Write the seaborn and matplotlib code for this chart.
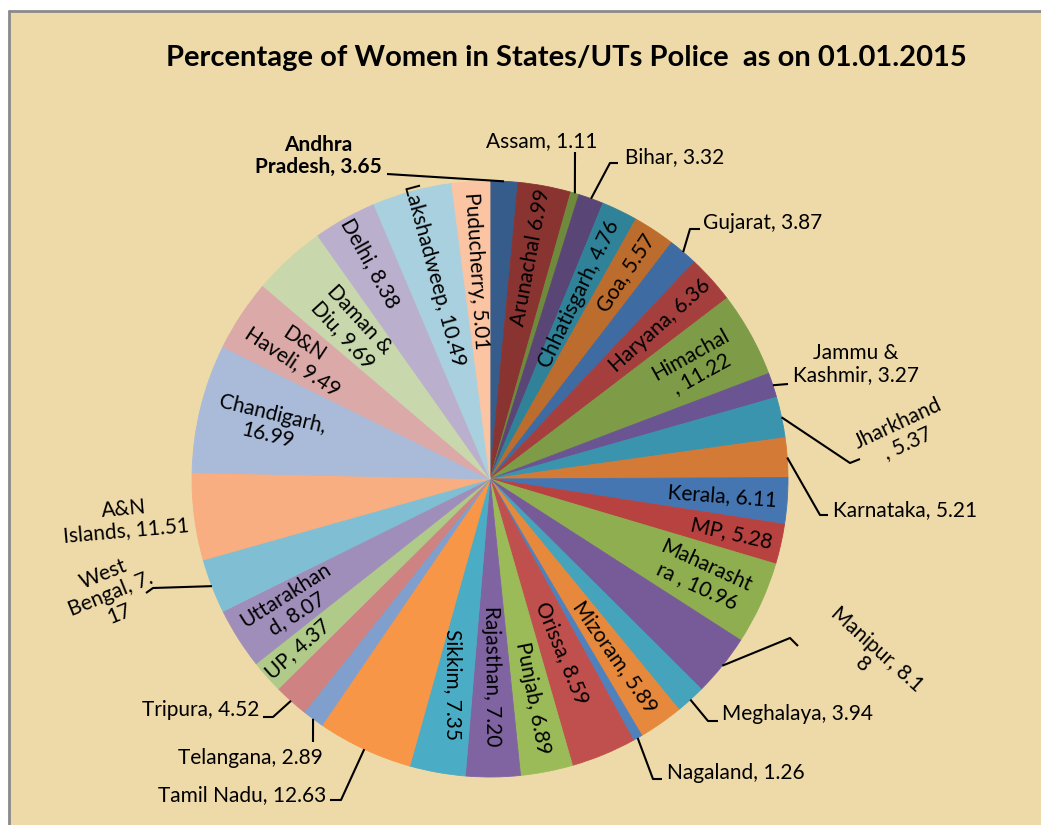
import numpy as np
import matplotlib
matplotlib.use("Agg")
import matplotlib.pyplot as plt
import seaborn as sns
from matplotlib.lines import Line2D
from matplotlib.patches import Rectangle

# --------------------------------
# Data (women in police, % as on 01.01.2015)
# --------------------------------
states = ['Andhra Pradesh', 'Arunachal', 'Assam', 'Bihar', 'Chhatisgarh', 'Goa',
          'Gujarat', 'Haryana', 'Himachal', 'Jammu & Kashmir', 'Jharkhand',
          'Karnataka', 'Kerala', 'MP', 'Maharashtra', 'Manipur', 'Meghalaya',
          'Mizoram', 'Nagaland', 'Orissa', 'Punjab', 'Rajasthan', 'Sikkim',
          'Tamil Nadu', 'Telangana', 'Tripura', 'UP', 'Uttarakhand',
          'West Bengal', 'A&N Islands', 'Chandigarh', 'D&N Haveli',
          'Daman & Diu', 'Delhi', 'Lakshadweep', 'Puducherry']
women_pct = [3.65, 6.99, 1.11, 3.32, 4.76, 5.57, 3.87, 6.36, 11.22, 3.27, 5.37,
             5.21, 6.11, 5.28, 10.96, 8.18, 3.94, 5.89, 1.26, 8.59, 6.89, 7.20,
             7.35, 12.63, 2.89, 4.52, 4.37, 8.07, 7.17, 11.51, 16.99, 9.49,
             9.69, 8.38, 10.49, 5.01]
# label text as wrapped in the original chart
label_texts = ['Andhra\nPradesh, 3.65', 'Arunachal 6.99', 'Assam, 1.11', 'Bihar, 3.32',
               'Chhatisgarh, 4.76', 'Goa, 5.57', 'Gujarat, 3.87', 'Haryana, 6.36',
               'Himachal\n, 11.22', 'Jammu &\nKashmir, 3.27', 'Jharkhand\n, 5.37',
               'Karnataka, 5.21', 'Kerala, 6.11', 'MP, 5.28', 'Maharasht\nra , 10.96',
               'Manipur, 8.1\n8', 'Meghalaya, 3.94', 'Mizoram, 5.89', 'Nagaland, 1.26',
               'Orissa, 8.59', 'Punjab, 6.89', 'Rajasthan, 7.20', 'Sikkim, 7.35',
               'Tamil Nadu, 12.63', 'Telangana, 2.89', 'Tripura, 4.52', 'UP, 4.37',
               'Uttarakhan\nd, 8.07', 'West\nBengal, 7.\n17', 'A&N\nIslands, 11.51',
               'Chandigarh,\n16.99', 'D&N\nHaveli, 9.49', 'Daman &\nDiu, 9.69',
               'Delhi, 8.38', 'Lakshadweep, 10.49', 'Puducherry, 5.01']

slice_colors = ['#355C8A', '#8A3432', '#6F8A3C', '#5A4676', '#2F8298', '#BC6C2C',
                '#3F6BA3', '#A53F3D', '#7E9C47', '#6A5592', '#3A94AE', '#D37A36',
                '#4676B2', '#B8423F', '#8FAE50', '#775B99', '#45A3BC', '#E6893C',
                '#4F81BD', '#C0504D', '#9BBB59', '#8064A2', '#4BACC6', '#F79646',
                '#819FCC', '#CE8281', '#B0CA8A', '#A08EBA', '#80BFD3', '#F8AE80',
                '#A9BBD9', '#DBA9A8', '#C8D8AC', '#BAB0CD', '#A9D0DE', '#FBC4A3']

# --------------------------------
# Label placement (style)
# --------------------------------
# inside labels: index -> (radius fraction, rotation override or None)
inside = {1: (0.755, None), 4: (0.69, None), 5: (0.83, None), 7: (0.77, None),
          8: (0.79, None), 12: (0.78, None), 13: (0.83, None), 14: (0.78, None),
          17: (0.73, None), 19: (0.63, None), 20: (0.75, None), 21: (0.66, None),
          22: (0.70, -90), 26: (0.86, None), 27: (0.79, None), 30: (0.76, None),
          31: (0.77, None), 32: (0.69, None), 33: (0.83, None), 34: (0.71, None),
          35: (0.70, None)}

# outside labels: index -> (x, y, ha, rotation, leader points after the wedge edge)
def px(x, y):
    return ((x - 490) / 298.0, (479 - y) / 298.0)

outside = {
    0: (px(318, 156), 'center', 0, [px(387, 174)]),
    2: (px(542, 141), 'center', 0, [px(575, 152)]),
    3: (px(625, 157), 'left', 0, [px(610, 163), px(618, 163)]),
    6: (px(703, 223), 'left', 0, [px(690, 229), px(700, 229)]),
    9: (px(856, 364), 'center', 0, [px(788, 384)]),
    10: (px(903, 433), 'center', 25, [px(850, 463), px(860, 459)]),
    11: (px(833, 510), 'left', 0, [px(820, 515), px(828, 515)]),
    15: (px(870, 657), 'center', -42, [px(790, 638), px(798, 646)]),
    16: (px(722, 714), 'left', 0, [px(708, 721), px(718, 721)]),
    18: (px(667, 773), 'left', 0, [px(653, 779), px(662, 779)]),
    23: (px(326, 795), 'right', 0, [px(341, 800), px(330, 800)]),
    24: (px(250, 758), 'center', 0, [px(313, 742)]),
    25: (px(259, 710), 'right', 0, [px(273, 717), px(263, 717)]),
    28: (px(111, 594), 'center', 22, [px(153, 588), px(146, 593)]),
    29: (px(125, 520), 'center', 5, []),
}

sns.set_style("white")
plt.rcParams['font.family'] = ['Lato', 'DejaVu Sans']
plt.rcParams['text.color'] = 'black'

W, H = 1041, 825
fig = plt.figure(figsize=(W / 100, H / 100), dpi=100)
fig.patch.set_facecolor('white')

# parchment panel with grey frame
fig.patches.append(Rectangle((10 / W, 0), 1, 1 - 12 / H, transform=fig.transFigure,
                             facecolor='#EEDAA8', edgecolor='none', zorder=-5))
fig.add_artist(Line2D([9 / W, 1], [1 - 11 / H] * 2, color='#8A8A8A', lw=2, zorder=-4))
fig.add_artist(Line2D([9 / W] * 2, [0, 1 - 11 / H], color='#8A8A8A', lw=2, zorder=-4))

fig.text(566 / W, 1 - 58 / H, 'Percentage of Women in States/UTs Police  as on 01.01.2015',
         ha='center', va='center', fontsize=21, fontweight='bold', color='black')

cx, cy, R = 490, 479, 298
ax = fig.add_axes([(cx - R) / W, (H - cy - R) / H, 2 * R / W, 2 * R / H])
ax.set_zorder(1)
wedges, _ = ax.pie(women_pct, colors=slice_colors, startangle=90, counterclock=False,
                   radius=1, wedgeprops=dict(linewidth=0.6))
for w in wedges:
    w.set_edgecolor(w.get_facecolor())
ax.set_xlim(-1, 1)
ax.set_ylim(-1, 1)
ax.axis('off')

for i, w in enumerate(wedges):
    theta = np.deg2rad((w.theta1 + w.theta2) / 2)
    if i in inside:
        r, rot = inside[i]
        if rot is None:
            rot = (np.rad2deg(theta) + 180) % 360 - 180
            if rot > 90 or rot < -90:
                rot = (rot + 360) % 360 - 180
        ax.text(r * np.cos(theta), r * np.sin(theta), label_texts[i], rotation=rot,
                rotation_mode='anchor', ha='center', va='center',
                multialignment='center', fontsize=15, linespacing=1.1)
    elif i in outside:
        (tx, ty), ha, rot, pts = outside[i]
        ax.text(tx, ty, label_texts[i], ha=ha, va='center', rotation=rot,
                rotation_mode='anchor', multialignment='center', fontsize=15,
                linespacing=1.1, fontweight='bold' if i == 0 else 'normal',
                clip_on=False)
        if pts:
            xs = [np.cos(theta)] + [p[0] for p in pts]
            ys = [np.sin(theta)] + [p[1] for p in pts]
            ax.plot(xs, ys, color='black', lw=1.5, clip_on=False,
                    solid_capstyle='butt')

fig.savefig('out.png', dpi=100)
